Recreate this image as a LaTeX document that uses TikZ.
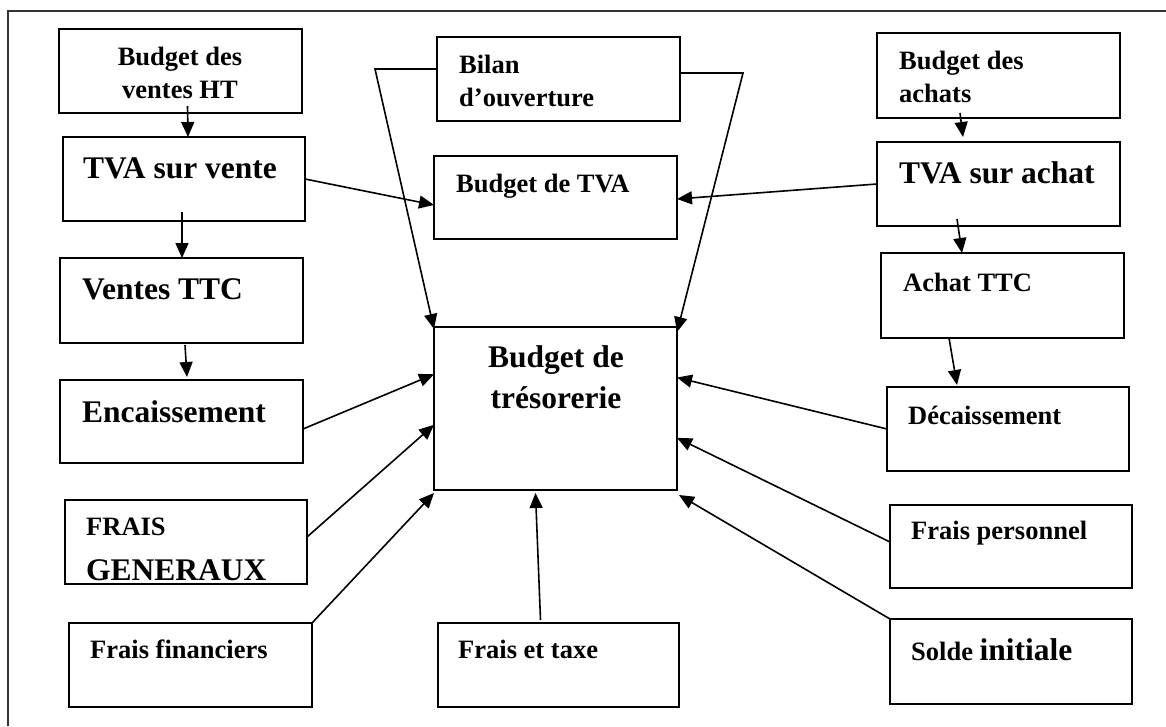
\documentclass[tikz,border=0pt]{standalone}
\usepackage{fontspec}
\setmainfont{Liberation Serif}
\usetikzlibrary{arrows.meta,calc}
\begin{document}
\begin{tikzpicture}[x=1pt,y=-1pt,
  box/.style={draw, line width=1.6pt, inner sep=0pt, outer sep=0pt, anchor=north west},
  sm/.style={font=\fontsize{26.5}{33}\selectfont\bfseries, inner sep=0pt, anchor=base west},
  lg/.style={font=\fontsize{31.5}{41}\selectfont\bfseries, inner sep=0pt, anchor=base west},
  arr/.style={line width=1.6pt, -{Triangle[length=15pt,width=13pt]}}]
\useasboundingbox (0,0) rectangle (1166,726);

% frame
\draw[line width=1.8pt, black!80] (8,726) -- (8,11) -- (1166,11);

% boxes
\node[box, minimum width=243pt, minimum height=84pt]  (bvht)  at (59,29)  {};
\node[box, minimum width=242pt, minimum height=84pt]  (tvav)  at (63,137) {};
\node[box, minimum width=243pt, minimum height=85pt]  (vttc)  at (60,258) {};
\node[box, minimum width=243pt, minimum height=83pt]  (enc)   at (60,380) {};
\node[box, minimum width=242pt, minimum height=84pt]  (fg)    at (65,500) {};
\node[box, minimum width=243pt, minimum height=84pt]  (ff)    at (69,623) {};
\node[box, minimum width=241pt, minimum height=84pt]  (fet)   at (438,623) {};
\node[box, minimum width=242pt, minimum height=85pt]  (solde) at (890,619) {};
\node[box, minimum width=242pt, minimum height=83pt]  (fp)    at (890,505) {};
\node[box, minimum width=242pt, minimum height=84pt]  (dec)   at (887,387) {};
\node[box, minimum width=243pt, minimum height=85pt]  (achat) at (881,253) {};
\node[box, minimum width=243pt, minimum height=84pt]  (tvaa)  at (877,142) {};
\node[box, minimum width=243pt, minimum height=85pt]  (ba)    at (877,33)  {};
\node[box, minimum width=243pt, minimum height=83pt]  (btva)  at (434,156) {};
\node[box, minimum width=243pt, minimum height=84pt]  (bilan) at (437,37)  {};
\node[box, minimum width=243pt, minimum height=163pt] (tres)  at (434,327) {};

% labels
\node[sm, anchor=base] (t-bvht) at (180,65) {\vtop{\baselineskip=33pt\halign{\hfil#\hfil\cr Budget des\cr ventes HT\cr}}};
\node[lg] (t-tvav) at (83,178) {TVA sur vente};
\node[lg] (t-vttc) at (82,299) {Ventes TTC};
\node[lg] (t-enc) at (82,422) {Encaissement};
\node[sm] (t-fg) at (86,535) {\vtop{\baselineskip=45pt\hbox{FRAIS}\hbox{\fontsize{31.5}{41}\selectfont GENERAUX}}};
\node[sm] (t-ff) at (90,658) {Frais financiers};
\node[sm] (t-fet) at (458,658) {Frais et taxe};
\node[sm] (t-solde) at (911,660) {Solde {\fontsize{31.5}{41}\selectfont initiale}};
\node[sm] (t-fp) at (911,539) {Frais personnel};
\node[sm] (t-dec) at (908,424) {Décaissement};
\node[sm] (t-achat) at (903,291) {Achat TTC};
\node[lg] (t-tvaa) at (899,183) {TVA sur achat};
\node[sm] (t-ba) at (899,69) {\vtop{\baselineskip=33pt\hbox{Budget des}\hbox{achats}}};
\node[sm] (t-btva) at (456,192) {Budget de TVA};
\node[sm] (t-bilan) at (459,73) {\vtop{\baselineskip=33pt\hbox{Bilan}\hbox{d’ouverture}}};
\node[lg, anchor=base] (t-tres) at (556,367) {\vtop{\baselineskip=41pt\halign{\hfil#\hfil\cr Budget de\cr trésorerie\cr}}};

% sales chain
\draw[arr] ([xshift=7pt,yshift=7pt]bvht.south) -- ([xshift=4pt]tvav.north);
\draw[arr] ([xshift=-2pt,yshift=9pt]tvav.south) -- ([xshift=0.5pt]vttc.north);
\draw[arr] ([xshift=3.5pt,yshift=-2pt]vttc.south) -- ([xshift=5.5pt,yshift=3pt]enc.north);

% purchase chain
\draw[arr] ([xshift=-38.5pt,yshift=5pt]ba.south) -- ([xshift=-35.5pt,yshift=5pt]tvaa.north);
\draw[arr] ([xshift=-41.5pt,yshift=7pt]tvaa.south) -- ([xshift=-40.5pt]achat.north);
\draw[arr] ([xshift=-53.5pt]achat.south) -- ([xshift=-51pt,yshift=2pt]dec.north);

% VAT budget
\draw[arr] (tvav.east) -- ([yshift=-7.5pt]btva.west);
\draw[arr] (tvaa.west) -- ([yshift=-1.5pt]btva.east);

% opening balance
\draw[arr] ([yshift=10pt]bilan.west) -- ++(-62,0) -- ([yshift=-2pt]tres.north west);
\draw[arr] ([yshift=6pt]bilan.east) -- ++(63,0) -- ([yshift=-5pt]tres.north east);

% inputs of the cash budget
\draw[arr] ([yshift=-7.5pt]enc.east) -- ($(tres.north west)!0.29!(tres.south west)$);
\draw[arr] ([yshift=5pt]fg.east) -- ($(tres.north west)!0.6!(tres.south west)$);
\draw[arr] (ff.north east) -- ([yshift=-3pt]tres.south west);
\draw[arr] ([xshift=-18pt,yshift=3pt]fet.north) -- ([xshift=-20pt,yshift=-3pt]tres.south);
\draw[arr] (solde.north west) -- ([xshift=2pt,yshift=-5pt]tres.south east);
\draw[arr] ([yshift=4.5pt]fp.west) -- ($(tres.north east)!0.68!(tres.south east)$);
\draw[arr] (dec.west) -- ($(tres.north east)!0.31!(tres.south east)$);
\end{tikzpicture}
\end{document}
